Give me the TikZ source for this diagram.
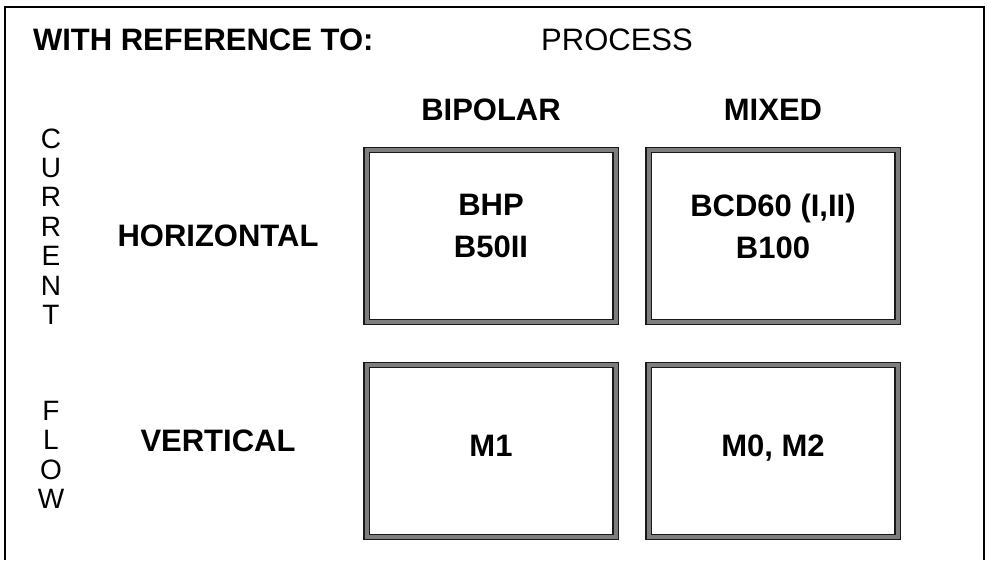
\documentclass[tikz,border=0pt]{standalone}
\usepackage{fontspec}
\setmainfont{Liberation Sans}
\usepackage{tikz}
\usetikzlibrary{positioning}
\definecolor{framegray}{RGB}{125, 125, 125}

\begin{document}
\begin{tikzpicture}[
  x=1pt, y=-1pt,
  cell/.style={rectangle, draw=black!90, line width=1.2pt, double=framegray, double distance=4pt, minimum width=249pt, minimum height=172pt, inner sep=0pt},
  hdr/.style={font=\fontsize{31}{37}\selectfont\bfseries},
  lbl/.style={font=\fontsize{31}{37}\selectfont},
  celltxt/.style={font=\fontsize{31}{42}\selectfont\bfseries, align=center},
  vert/.style={font=\fontsize{28}{29.4}\selectfont, align=center, inner sep=0pt}
]
\useasboundingbox (0,0) rectangle (988,560);

% outer frame
\draw[line width=1.3pt] (5,560) -- (5,7) -- (984,7) -- (984,560);

\node[hdr, anchor=west] (withref) at (29.5,40) {WITH REFERENCE TO:};
\node[lbl] (process) at (617,40) {PROCESS};

\node[hdr] (bipolar) at (491,110) {BIPOLAR};
\node[hdr] (mixed) at (773,110) {MIXED};

\node[vert] (current) at (51,226.5) {C\\U\\R\\R\\E\\N\\T};
\node[vert] (flow) at (51,455) {F\\L\\O\\W};

\node[hdr] (horiz) at (218,236) {HORIZONTAL};
\node[hdr] (vertic) at (218,441) {VERTICAL};

% process / flow matrix
\node[cell] (bhp) at (491,236) {};
\node[cell] (bcd) at (773,236) {};
\node[cell] (mone) at (491,451) {};
\node[cell] (mtwo) at (773,451) {};

\node[celltxt] (bhptxt) at (bhp.center) [yshift=10pt] {BHP\\B50II};
\node[celltxt] (bcdtxt) at (bcd.center) [yshift=10pt] {BCD60 (I,II)\\B100};
\node[celltxt] (monetxt) at (491,446) {M1};
\node[celltxt] (mtwotxt) at (773,448.5) {M0, M2};

\end{tikzpicture}
\end{document}
